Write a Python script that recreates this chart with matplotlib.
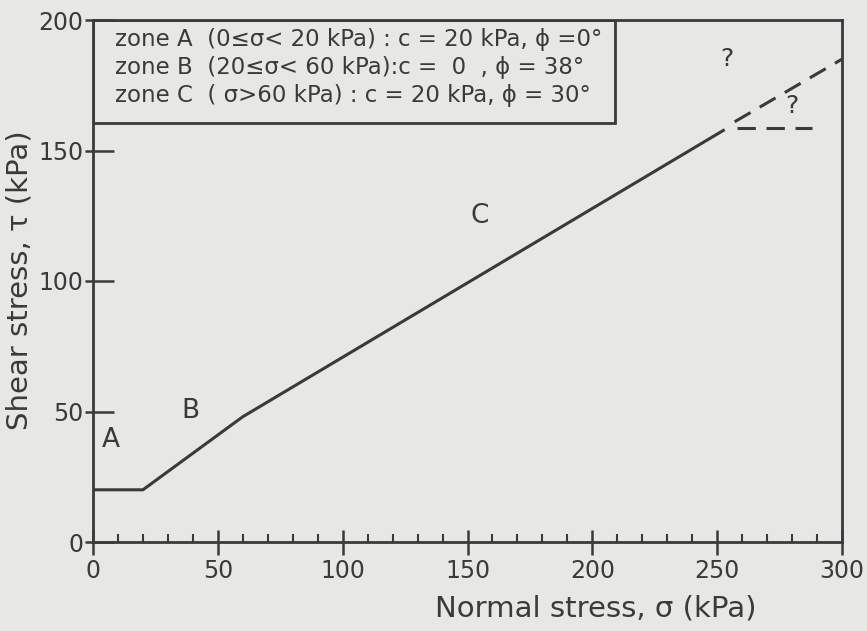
import matplotlib.pyplot as plt
from matplotlib.patches import Rectangle

# failure envelope
sigma_env = [0, 20, 60, 253]
tau_env = [20, 20, 48, 158]

# uncertain extrapolation beyond ~255 kPa
sigma_up = [257, 300]
tau_up = [161, 185]
sigma_flat = [258, 288]
tau_flat = [158.5, 158.5]

legend_lines = [
    'zone A  (0≤σ< 20 kPa) : c = 20 kPa, ϕ =0°',
    'zone B  (20≤σ< 60 kPa):c =  0  , ϕ = 38°',
    'zone C  ( σ>60 kPa) : c = 20 kPa, ϕ = 30°',
]
zone_labels = ['A', 'B', 'C']
zone_sigma = [7, 39, 155]
zone_tau = [39, 50, 125]
query_sigma = [254, 280]
query_tau = [185, 167]

bg = '#e7e7e5'
ink = '#3a3a3a'
plt.rcParams['font.family'] = ['DejaVu Sans']

fig = plt.figure(figsize=(8.67, 6.31), dpi=100, facecolor=bg)
ax = fig.add_axes([93 / 867, 89 / 631, 749 / 867, 522 / 631])
ax.set_facecolor(bg)

ax.plot(sigma_env, tau_env, color=ink, lw=2.2, solid_capstyle='butt')
ax.plot(sigma_up, tau_up, color=ink, lw=2.2, dashes=(6, 3.5))
ax.plot(sigma_flat, tau_flat, color=ink, lw=2.2, dashes=(6, 3.5))

for lab, s, t in zip(zone_labels, zone_sigma, zone_tau):
    ax.text(s, t, lab, fontsize=19, color=ink, ha='center', va='center')
for s, t in zip(query_sigma, query_tau):
    ax.text(s, t, '?', fontsize=18, color=ink, ha='center', va='center')

# legend box in the top left corner
ax.add_patch(Rectangle((0, 0.802), 0.697, 0.198, transform=ax.transAxes,
                       fill=False, ec=ink, lw=2.0, zorder=3))
for i, line in enumerate(legend_lines):
    ax.text(0.03, 0.962 - i * 0.053, line, transform=ax.transAxes,
            fontsize=16.5, color=ink, ha='left', va='center')

ax.set_xlim(0, 300)
ax.set_ylim(0, 200)
ax.set_xticks(range(0, 301, 50))
ax.set_xticks(range(0, 301, 10), minor=True)
ax.set_yticks(range(0, 201, 50))
# short outward stubs on the y ticks
ax.set_yticks(range(0, 201, 50), minor=True)
ax.yaxis.remove_overlapping_locs = False

ax.tick_params(axis='x', which='major', direction='inout', length=18, width=1.8,
               color=ink, labelsize=17, labelcolor=ink, pad=3)
ax.tick_params(axis='x', which='minor', direction='in', length=6, width=1.5, color=ink)
ax.tick_params(axis='y', which='major', direction='in', length=15, width=1.8,
               color=ink, labelsize=17, labelcolor=ink, pad=7)
ax.tick_params(axis='y', which='minor', direction='out', length=6, width=1.8, color=ink)
for sp in ax.spines.values():
    sp.set_color(ink)
    sp.set_linewidth(2.0)

fig.text(20 / 867, 1 - 280 / 631, 'Shear stress, τ (kPa)', fontsize=21,
         color=ink, ha='center', va='center', rotation=90)
fig.text(596 / 867, 1 - 608 / 631, 'Normal stress, σ (kPa)', fontsize=21,
         color=ink, ha='center', va='center')

plt.savefig('out.png', dpi=100, facecolor=bg)
